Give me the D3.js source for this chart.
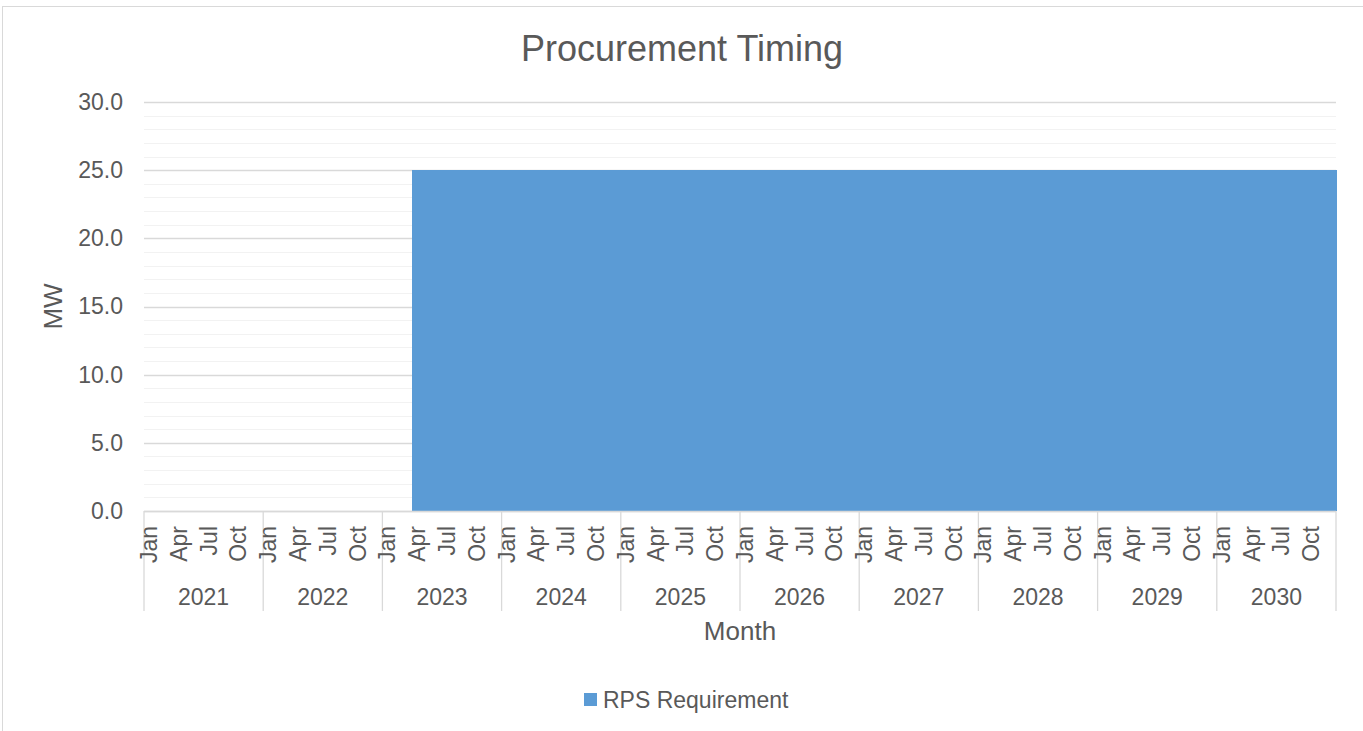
<!DOCTYPE html>
<html>
<head>
<meta charset="utf-8">
<script src="https://cdn.jsdelivr.net/npm/d3@7"></script>
<style>
  html, body { margin: 0; padding: 0; background: #fff; }
  svg { display: block; font-family: "Liberation Sans", Arial, sans-serif; }
</style>
</head>
<body>
<svg id="chart" width="1363" height="731"></svg>
<script>
// ---- data ----
const years = ["2021","2022","2023","2024","2025","2026","2027","2028","2029","2030"];
const monthNames = ["Jan","Feb","Mar","Apr","May","Jun","Jul","Aug","Sep","Oct","Nov","Dec"];
const shownMonths = ["Jan","Apr","Jul","Oct"];
const yTicks = [0, 5, 10, 15, 20, 25, 30];
const seriesName = "RPS Requirement";
// monthly MW values, Jan 2021 .. Dec 2030
const rpsValues = [
  0,0,0,0,0,0,0,0,0,0,0,0,          // 2021
  0,0,0,0,0,0,0,0,0,0,0,0,          // 2022
  0,0,0,25,25,25,25,25,25,25,25,25, // 2023
  25,25,25,25,25,25,25,25,25,25,25,25, // 2024
  25,25,25,25,25,25,25,25,25,25,25,25, // 2025
  25,25,25,25,25,25,25,25,25,25,25,25, // 2026
  25,25,25,25,25,25,25,25,25,25,25,25, // 2027
  25,25,25,25,25,25,25,25,25,25,25,25, // 2028
  25,25,25,25,25,25,25,25,25,25,25,25, // 2029
  25,25,25,25,25,25,25,25,25,25,25,25  // 2030
];

const categories = [];
years.forEach(y => monthNames.forEach(m => categories.push({year: y, month: m})));
const data = categories.map((c, i) => ({...c, i, value: rpsValues[i]}));

// ---- layout ----
const svg = d3.select("#chart");
const pLeft = 144, pRight = 1336, pTop = 102, pBottom = 511;
const textColor = "#595959";
const barColor = "#5b9bd5";

// chart border
svg.append("rect").attr("x", 2.5).attr("y", 6.5).attr("width", 1400).attr("height", 800)
  .attr("fill", "#fff").attr("stroke", "#d9d9d9").attr("stroke-width", 1);

const x = d3.scaleBand().domain(data.map(d => d.i)).range([pLeft, pRight]).padding(0);
const y = d3.scaleLinear().domain([0, 30]).range([pBottom, pTop]);

// minor gridlines
svg.append("g").selectAll("line").data(d3.range(0, 31, 1).filter(v => v % 5 !== 0)).join("line")
  .attr("x1", pLeft).attr("x2", pRight)
  .attr("y1", d => Math.round(y(d)) + 0.5).attr("y2", d => Math.round(y(d)) + 0.5)
  .attr("stroke", "#f2f2f2").attr("stroke-width", 1);
// major gridlines
svg.append("g").selectAll("line").data(yTicks).join("line")
  .attr("x1", pLeft).attr("x2", pRight)
  .attr("y1", d => Math.round(y(d)) + 0.5).attr("y2", d => Math.round(y(d)) + 0.5)
  .attr("stroke", "#d9d9d9").attr("stroke-width", 1.3);

// bars (gap width 0)
svg.append("g").attr("shape-rendering", "crispEdges")
  .selectAll("rect").data(data).join("rect")
  .attr("x", d => Math.round(x(d.i)))
  .attr("width", d => Math.round(x(d.i) + x.bandwidth()) - Math.round(x(d.i)) + 1)
  .attr("y", d => Math.round(y(d.value)))
  .attr("height", d => Math.round(y(0)) - Math.round(y(d.value)))
  .attr("fill", barColor);

// y axis labels
const yAxis = d3.axisLeft(y).tickValues(yTicks).tickFormat(d3.format(".1f")).tickSize(0).tickPadding(21);
const yg = svg.append("g").attr("transform", `translate(${pLeft},0)`).call(yAxis);
yg.select(".domain").remove();
yg.selectAll("text").attr("fill", textColor).style("font-size", "23px")
  .style("font-family", '"Liberation Sans", Arial, sans-serif');

// x axis line
svg.append("line").attr("x1", pLeft).attr("x2", pRight)
  .attr("y1", Math.round(y(0)) + 0.5).attr("y2", Math.round(y(0)) + 0.5)
  .attr("stroke", "#d9d9d9").attr("stroke-width", 1.3);

// year separators
const yearWidth = (pRight - pLeft) / years.length;
svg.append("g").selectAll("line").data(d3.range(0, years.length + 1)).join("line")
  .attr("x1", d => d < years.length ? x(d * 12) : pRight)
  .attr("x2", d => d < years.length ? x(d * 12) : pRight)
  .attr("y1", pBottom).attr("y2", 611)
  .attr("stroke", "#d9d9d9").attr("stroke-width", 1.3);

// month labels
svg.append("g").selectAll("text").data(data.filter(d => shownMonths.includes(d.month))).join("text")
  .attr("transform", d => `translate(${x(d.i) + x.bandwidth() / 2},526) rotate(-90)`)
  .attr("text-anchor", "end")
  .attr("dy", "0.35em")
  .attr("fill", textColor).style("font-size", "23px")
  .text(d => d.month);

// year labels
svg.append("g").selectAll("text").data(years).join("text")
  .attr("x", (d, i) => x(i * 12) + yearWidth / 2)
  .attr("y", 605)
  .attr("text-anchor", "middle")
  .attr("fill", textColor).style("font-size", "23px")
  .text(d => d);

// axis titles
svg.append("text").attr("x", (pLeft + pRight) / 2).attr("y", 640).attr("text-anchor", "middle")
  .attr("fill", textColor).style("font-size", "26px").text("Month");
svg.append("text").attr("transform", `translate(62,${(pTop + pBottom) / 2}) rotate(-90)`)
  .attr("text-anchor", "middle").attr("fill", textColor).style("font-size", "26px").text("MW");

// title
svg.append("text").attr("x", 682).attr("y", 61).attr("text-anchor", "middle")
  .attr("fill", textColor).style("font-size", "36px").text("Procurement Timing");

// legend
const lg = svg.append("g").attr("transform", "translate(584,693)");
lg.append("rect").attr("width", 13).attr("height", 13).attr("fill", barColor);
lg.append("text").attr("x", 19).attr("y", 15).attr("fill", textColor).style("font-size", "23px").text(seriesName);
</script>
</body>
</html>
